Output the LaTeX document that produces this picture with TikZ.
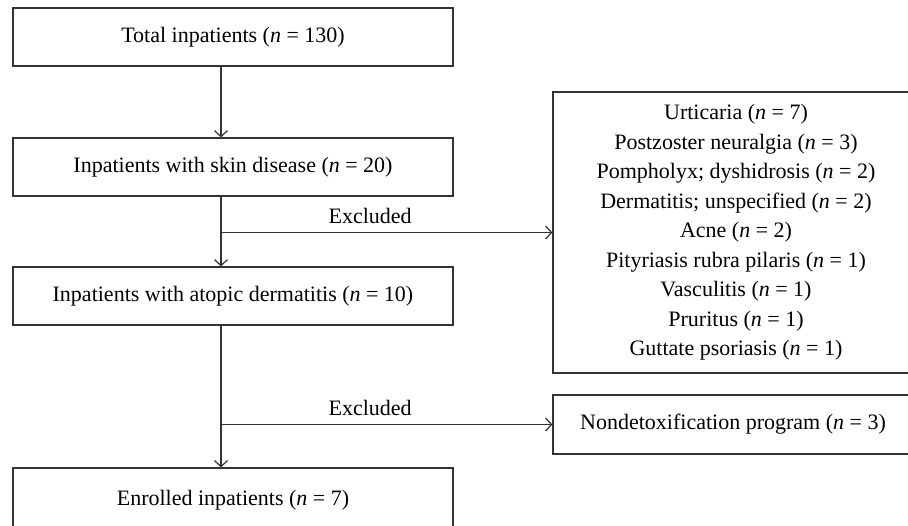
\documentclass[tikz,border=0pt]{standalone}
\usepackage{fontspec}
\setmainfont{Liberation Serif}
\usetikzlibrary{positioning, arrows.meta}

\newcommand{\nval}[1]{(\textit{n} = #1)}

\begin{document}
\begin{tikzpicture}[x=1pt, y=-1pt,
  font=\fontsize{22}{29.5}\selectfont,
  box/.style={draw=black!80, line width=1.2pt, rectangle, minimum width=440pt, minimum height=58pt, align=center, inner sep=0pt},
  link/.style={draw=black!80, line width=1.2pt, -{Straight Barb[length=6pt,width=13pt,line width=1.2pt]}}]
\useasboundingbox (0,0) rectangle (908,525);
\node[box] (total) at (233,37) {Total inpatients \nval{130}};
\node[box] (skin) at (233,167) {Inpatients with skin disease \nval{20}};
\node[box] (atopic) at (233,296) {Inpatients with atopic dermatitis \nval{10}};
\node[box, minimum height=64pt] (enrolled) at (233,500) {Enrolled inpatients \nval{7}};
\node[box, minimum width=366pt, minimum height=281pt] (other) at (736,232.5) {Urticaria \nval{7}\\
Postzoster neuralgia \nval{3}\\
Pompholyx; dyshidrosis \nval{2}\\
Dermatitis; unspecified \nval{2}\\
Acne \nval{2}\\
Pityriasis rubra pilaris \nval{1}\\
Vasculitis \nval{1}\\
Pruritus \nval{1}\\
Guttate psoriasis \nval{1}};
\node[box, minimum width=360pt, minimum height=59pt] (nondetox) at (733,424.5) {Nondetoxification program \nval{3}};
\coordinate (spine) at (221,0);
\draw[link] (spine |- total.south) -- (spine |- skin.north);
\draw[link] (spine |- skin.south) -- (spine |- atopic.north);
\draw[link] (spine |- other.west) -- node[pos=0.45, above=4.5pt] {Excluded} (other.west);
\draw[link] (spine |- atopic.south) -- (spine |- enrolled.north);
\draw[link] (spine |- nondetox.west) -- node[pos=0.45, above=4.5pt] {Excluded} (nondetox.west);
\end{tikzpicture}
\end{document}
